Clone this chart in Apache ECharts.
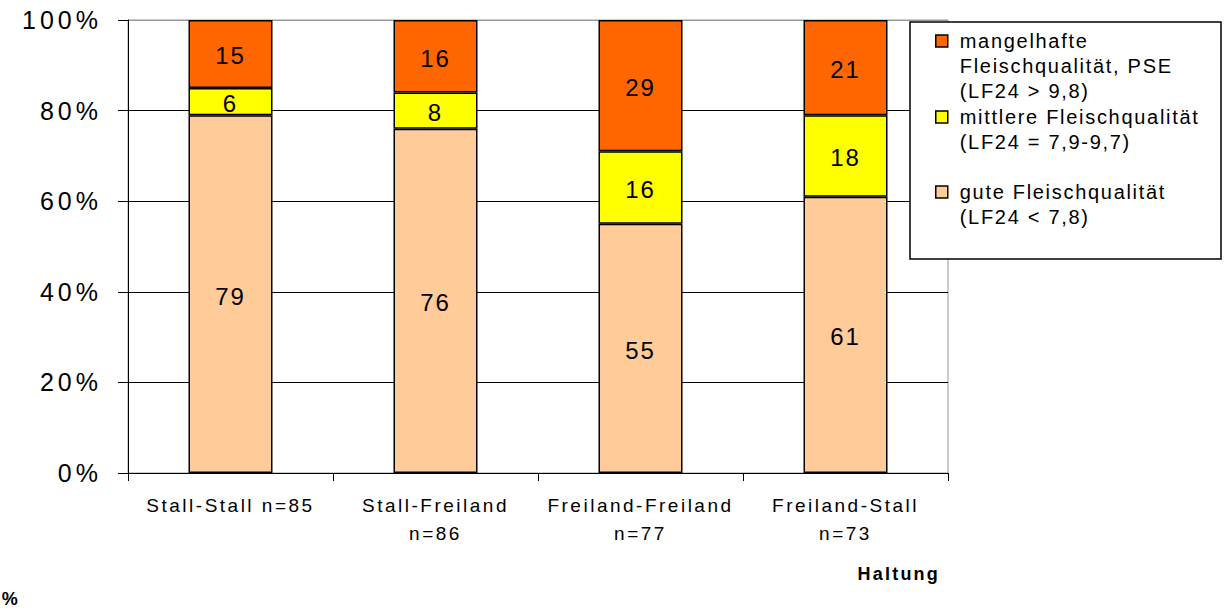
<!DOCTYPE html>
<html>
<head>
<meta charset="utf-8">
<script src="https://cdn.jsdelivr.net/npm/echarts@6/dist/echarts.min.js"></script>
<style>
    html, body { margin: 0; padding: 0; background: #fff; }
    #chart { width: 1232px; height: 611px; }
    /* Excel-Export: Schrift gesperrt */
    #chart text[style*="25px"] { letter-spacing: 4px; }
    #chart text[style*="24px"] { letter-spacing: 2px; }
    #chart text[style*="19px"] { letter-spacing: 2.5px; }
    #chart text[style*="20px"] { letter-spacing: 1.7px; }
    #chart text[style*="18px"] { letter-spacing: 2.2px; }
</style>
</head>
<body>
<div id="chart"></div>
<script>
// Daten
var categories = ['Stall-Stall n=85', 'Stall-Freiland\nn=86', 'Freiland-Freiland\nn=77', 'Freiland-Stall\nn=73'];
var gute = [79, 76, 55, 61];
var mittlere = [6, 8, 16, 18];
var mangelhaft = [15, 16, 29, 21];
var yTicks = [0, 20, 40, 60, 80, 100];

var names = ['gute', 'mittlere', 'mangelhaft'];
var legendText = {
    mangelhaft: 'mangelhafte\nFleischqualität, PSE\n(LF24 > 9,8)',
    mittlere: 'mittlere Fleischqualität\n(LF24 = 7,9-9,7)',
    gute: 'gute Fleischqualität\n(LF24 < 7,8)'
};
var colors = { gute: '#FFCC99', mittlere: '#FFFF00', mangelhaft: '#FF6600' };

var FONT = '"Liberation Sans", Arial, sans-serif';
var LH = 25;

// Symbol an der ersten Zeile ausrichten: leere Zeilen davor
function padLines(txt) {
    var n = txt.split('\n').length;
    return new Array(n).join('\n') + txt;
}

function makeLegend(name, top) {
    return {
        orient: 'vertical',
        left: 935,
        top: top,
        padding: 0,
        z: 5,
        data: [name],
        icon: 'rect',
        itemWidth: 12,
        itemHeight: 12,
        itemStyle: { borderColor: '#000', borderWidth: 1.5, color: colors[name] },
        selectedMode: false,
        formatter: function (n) { return padLines(legendText[n]); },
        textStyle: { fontFamily: FONT, fontSize: 20, color: '#000', lineHeight: LH, padding: [0, 0, 0, 7] }
    };
}

var seriesData = { gute: gute, mittlere: mittlere, mangelhaft: mangelhaft };

var chart = echarts.init(document.getElementById('chart'), null, { renderer: 'svg' });
chart.setOption({
    animation: false,
    backgroundColor: '#fff',
    grid: { left: 128, right: 284, top: 20, bottom: 138, show: true, borderColor: '#999', borderWidth: 1 },
    graphic: [{
        type: 'rect',
        z: 1,
        shape: { x: 910, y: 22, width: 311, height: 237 },
        style: { fill: '#fff', stroke: '#000', lineWidth: 1.5 }
    }],
    legend: [
        makeLegend('mangelhaft', 41 - 2.5 * LH),
        makeLegend('mittlere', 117 - 1.5 * LH),
        makeLegend('gute', 192 - 1.5 * LH)
    ],
    xAxis: {
        type: 'category',
        data: categories,
        name: 'Haltung',
        nameLocation: 'end',
        nameGap: -8,
        nameTextStyle: { fontFamily: FONT, fontSize: 18, fontWeight: 'bold', color: '#000', align: 'right', verticalAlign: 'top', padding: [92, 0, 0, 0] },
        axisLine: { lineStyle: { color: '#000', width: 1 } },
        axisTick: { show: true, length: 8, lineStyle: { color: '#000' } },
        axisLabel: { fontFamily: FONT, fontSize: 19, color: '#000', lineHeight: 28, margin: 18 }
    },
    yAxis: {
        type: 'value',
        min: 0,
        max: 100,
        interval: 20,
        name: '%',
        nameLocation: 'start',
        nameGap: 117,
        nameTextStyle: { fontFamily: FONT, fontSize: 18, fontWeight: 'bold', color: '#000', align: 'right', padding: [0, 108, 0, 0] },
        axisLine: { show: true, lineStyle: { color: '#000', width: 1 } },
        axisTick: { show: true, length: 10, lineStyle: { color: '#000' } },
        axisLabel: {
            fontFamily: FONT, fontSize: 25, color: '#000', margin: 26,
            formatter: function (v) { return yTicks.indexOf(v) >= 0 ? v + '%' : ''; }
        },
        splitLine: { show: true, lineStyle: { color: ['#000', '#000', '#000', '#000', '#000', '#999'], width: 1 } }
    },
    series: names.map(function (n) {
        return {
            name: n,
            type: 'bar',
            stack: 'haltung',
            barWidth: 84,
            data: seriesData[n],
            itemStyle: { color: colors[n], borderColor: '#000', borderWidth: 1.5 },
            label: { show: true, position: 'inside', offset: [0, 2], fontFamily: FONT, fontSize: 24, color: '#000' }
        };
    })
});
</script>
</body>
</html>
